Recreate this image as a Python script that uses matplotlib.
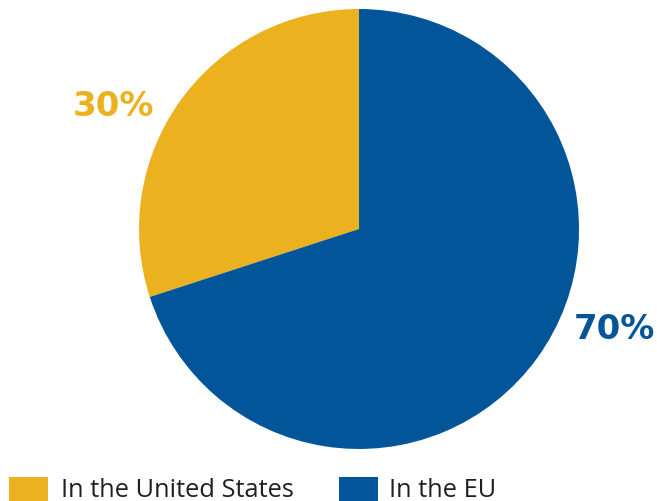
import numpy as np
import matplotlib
matplotlib.use("Agg")
import matplotlib.pyplot as plt
from matplotlib.patches import Rectangle

# Share of respondents by location
categories = ["In the United States", "In the EU"]
shares = [30, 70]
colors = ["#ECB11F", "#03559A"]

fig = plt.figure(figsize=(6.57, 5.02), dpi=100)
ax = fig.add_axes([0.2116, 0.1036, 0.6697, 0.8765])
ax.pie(shares, colors=colors, startangle=90, counterclock=True, radius=1.0,
       wedgeprops=dict(linewidth=0))
ax.set_xlim(-1, 1)
ax.set_ylim(-1, 1)
ax.set_aspect("equal")
ax.axis("off")

# Percentage labels outside the wedges
label_pos = [(153.4, 1.25), (-21.4, 1.245)]
for share, col, (ang, r) in zip(shares, colors, label_pos):
    a = np.deg2rad(ang)
    ax.text(r * np.cos(a), r * np.sin(a), f"{share}%", color=col,
            fontsize=24.5, fontweight="bold", family="DejaVu Sans",
            ha="center", va="center", clip_on=False)

# Legend along the bottom edge
W, H = 657, 502
legend_x = [(9, 61), (339, 389)]
for (sx, tx), label, col in zip(legend_x, categories, colors):
    fig.add_artist(Rectangle((sx / W, 0), 39 / W, 24 / H, transform=fig.transFigure,
                             facecolor=col, edgecolor="none"))
    fig.text(tx / W, 11 / H, label, color="#231F20", fontsize=18.3,
             family="Open Sans", ha="left", va="center")

fig.savefig("out.png", dpi=100)
